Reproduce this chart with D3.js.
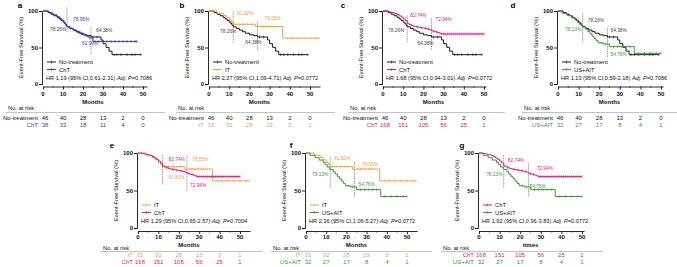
<!DOCTYPE html>
<html>
<head>
<meta charset="utf-8">
<script src="https://cdn.jsdelivr.net/npm/d3@7"></script>
<style>
  body { margin: 0; background: #fff; }
  svg { display: block; font-family: "Liberation Sans", Arial, sans-serif; }
</style>
</head>
<body>
<div id="chart"></div>
<script>
// step curves: event times (months) and survival (%) after each event
const noTreatTimes = [0, 2.5, 4, 5.5, 7, 8, 9, 10, 10.8, 11.4, 12, 13.5, 15, 16.5, 18, 20, 22, 24, 29, 30, 31.5, 33, 34.5];
const noTreatSurv  = [100, 97.8, 95.6, 93.5, 91.3, 89.1, 87, 84.8, 82.6, 80.4, 78.3, 76.1, 73.9, 71.7, 69.6, 67.4, 66.3, 64.4, 60.3, 55.2, 50.2, 45, 40.2];
const noTreatEnd = 49;
const noTreatCensor = [25, 27, 35.5, 37, 39, 42, 44.5, 46, 49];

const chtATimes = [0, 3, 5, 7, 8.5, 9.5, 10.5, 11.2, 11.8, 13, 15, 17, 19, 21, 23, 25];
const chtASurv  = [100, 97.4, 94.7, 92.1, 89.5, 86.8, 84.2, 81.6, 78.9, 76.3, 73.7, 71.1, 68.4, 65.8, 63, 58.3];
const chtAEnd = 47;
const chtACensor = [14, 16, 18, 20, 22, 26, 28, 30, 32, 34, 36, 38, 40, 42, 44, 46, 47];

const itTimes = [0, 4, 7, 8.5, 10, 11, 11.8, 23, 36.5];
const itSurv  = [100, 97, 93.9, 90.9, 87.9, 84.8, 81.8, 78.6, 62.8];
const itEnd = 55;
const itCensor = [13, 15, 17, 19, 21, 24, 26, 27, 28, 29.5, 31, 32, 33.5, 39, 41, 44, 47, 50, 53];

const chtTimes = [0, 2, 3, 4, 5, 6, 7, 8, 9, 10, 11, 12, 13, 14, 15, 16, 17, 18, 19, 20, 21, 22, 23, 24, 25, 26, 27, 28, 29];
const chtSurv  = [100, 99.4, 98.8, 98.2, 97.6, 96.4, 95.2, 93.4, 91.6, 89.2, 86.8, 82.7, 81.5, 80.3, 79.2, 78.6, 78, 77.4, 77, 76.6, 76, 75.3, 74.5, 72.9, 72.2, 71.4, 70.5, 69.3, 68.5];
const chtEnd = 50;
const chtCensor = [14, 17, 19, 21, 22.5, 25, 26.5, 29, 30, 31, 32, 33, 34, 35, 36, 37, 38, 39, 40, 41, 42, 43, 44, 45, 46, 47, 48, 49, 50];

const usaitTimes = [0, 2, 4.5, 6.5, 8.5, 9.5, 10.5, 11.8, 13.5, 14.5, 15.5, 16.5, 17.5, 18.5, 19.5, 22, 25, 37];
const usaitSurv  = [100, 96.9, 93.8, 90.6, 87.5, 84.4, 81.3, 78.1, 75, 71.9, 68.8, 65.6, 62.5, 59.4, 56.3, 54.8, 51.2, 42];
const usaitEnd = 50;
const usaitCensor = [21, 23, 27, 29, 31, 33, 35, 39, 42, 45, 48, 50];

// numbers at risk at 0, 10, 20, 30, 40, 50 months
const riskTicks = [0, 10, 20, 30, 40, 50];
const noTreatRisk = [46, 40, 28, 13, 2, 0];
const chtARisk = [38, 33, 18, 11, 4, 0];
const itRisk = [33, 32, 28, 13, 3, 1];
const chtRisk = [168, 151, 105, 56, 25, 1];
const usaitRisk = [32, 27, 17, 8, 4, 1];

const yTicks = [0, 50, 100];
const xTicks = [0, 10, 20, 30, 40, 50];

const hrTexts = [
  ['HR 1.19 (95% CI,0.61-2.31)', 'P=0.7086'],
  ['HR 2.27 (95% CI,1.09-4.71)', 'P=0.0772'],
  ['HR 1.68 (95% CI,0.94-3.01)', 'P=0.0772'],
  ['HR 1.13 (95% CI,0.59-2.18)', 'P=0.7086'],
  ['HR 1.29 (95% CI,0.65-2.57)', 'P=0.7004'],
  ['HR 2.36 (95% CI,1.06-5.27)', 'P=0.0772'],
  ['HR 1.92 (95% CI,0.96-3.83)', 'P=0.0772']
];

const series = {
  noTreat: { name: 'No-treatment', times: noTreatTimes, surv: noTreatSurv, end: noTreatEnd, censor: noTreatCensor, risk: noTreatRisk, color: '#1a1a1a', label: '#444' },
  chtA:    { name: 'ChT', times: chtATimes, surv: chtASurv, end: chtAEnd, censor: chtACensor, risk: chtARisk, color: '#3b3bc4', label: '#3b3bc4' },
  it:      { name: 'IT', times: itTimes, surv: itSurv, end: itEnd, censor: itCensor, risk: itRisk, color: '#f0a23c', label: '#f0a23c' },
  cht:     { name: 'ChT', times: chtTimes, surv: chtSurv, end: chtEnd, censor: chtCensor, risk: chtRisk, color: '#e4177d', label: '#e4177d' },
  usait:   { name: 'US+AIT', times: usaitTimes, surv: usaitSurv, end: usaitEnd, censor: usaitCensor, risk: usaitRisk, color: '#3e963e', label: '#3e963e' }
};

// layout of the two rows
const rows = [
  { yTop: 11, yBot: 84, axisY: 86.5, tickY: 96, monthsY: 104, riskTitleY: 110, ruleY: 112.5, riskY: [120, 126.5], letterY: 8 },
  { yTop: 153, yBot: 228, axisY: 231, tickY: 238.5, monthsY: 246.5, riskTitleY: 250, ruleY: 251.5, riskY: [257, 263.5], letterY: 148 }
];

// notes: [series, month, pct, text]; vlines: [month, pctTop, pctBottom]
const panels = [
  { letter: 'a', row: 0, x0: 43, w: 100, xmax: 50, axisMax: 52, letterX: 20, left: 8, right: 165, s: ['noTreat', 'chtA'], xlab: 'Months',
    notes: [['chtA', 15, 89, '78.95%'], ['noTreat', 3.5, 75, '78.26%'], ['noTreat', 26.5, 73, '64.38%'], ['chtA', 19.5, 56, '62.99%']],
    vlines: [[12, 105, 70], [24, 78, 40]] },
  { letter: 'b', row: 0, x0: 209, w: 101, xmax: 55, axisMax: 55, letterX: 182, left: 178, right: 335, s: ['noTreat', 'it'], xlab: 'Months',
    notes: [['it', 14, 97, '81.82%'], ['it', 27.5, 90, '78.55%'], ['noTreat', 5.5, 72, '78.26%'], ['noTreat', 18, 57, '64.38%']],
    vlines: [[12, 100, 57], [24, 85, 46]] },
  { letter: 'c', row: 0, x0: 383, w: 101, xmax: 50, axisMax: 51, letterX: 343, left: 350, right: 505, s: ['noTreat', 'cht'], xlab: 'Months',
    notes: [['cht', 13.5, 94.5, '82.74%'], ['cht', 26, 89, '72.94%'], ['noTreat', 2.5, 74, '78.26%'], ['noTreat', 17, 56, '64.38%']],
    vlines: [[12, 94, 56], [24, 90, 46]] },
  { letter: 'd', row: 0, x0: 558, w: 103, xmax: 50, axisMax: 51, letterX: 513, left: 524, right: 677, s: ['noTreat', 'usait'], xlab: 'Months',
    notes: [['noTreat', 14.5, 87, '78.26%'], ['noTreat', 25.5, 74, '64.38%'], ['usait', 3.5, 75, '78.13%'], ['usait', 25.5, 41, '54.76%']],
    vlines: [[12, 97, 56], [24, 77, 37]] },
  { letter: 'e', row: 1, x0: 138, w: 102, xmax: 55, axisMax: 55, letterX: 112, left: 103, right: 262, s: ['it', 'cht'], xlab: 'Months',
    notes: [['cht', 15, 92, '82.74%'], ['it', 26.5, 92, '78.55%'], ['it', 15, 68, '81.82%'], ['cht', 25.5, 57, '72.94%']],
    vlines: [[12, 97, 57], [24, 97, 48]] },
  { letter: 'f', row: 1, x0: 306, w: 101, xmax: 55, axisMax: 55, letterX: 291, left: 273, right: 432, s: ['it', 'usait'], xlab: 'Months',
    notes: [['it', 14, 93, '81.82%'], ['it', 27.7, 85, '78.55%'], ['usait', 3, 72, '78.13%'], ['usait', 26, 58, '54.76%']],
    vlines: [[12, 95, 53], [24, 88, 41]] },
  { letter: 'g', row: 1, x0: 479, w: 103, xmax: 50, axisMax: 51, letterX: 462, left: 443, right: 602, s: ['cht', 'usait'], xlab: 'times',
    notes: [['cht', 14, 90, '82.74%'], ['cht', 28, 79, '72.94%'], ['usait', 3.5, 72, '78.13%'], ['usait', 24.5, 55, '54.76%']],
    vlines: [[12, 97, 53], [24, 87, 41]] }
];

const svg = d3.select('#chart').append('svg').attr('width', 677).attr('height', 267);
svg.append('rect').attr('width', 677).attr('height', 267).attr('fill', '#fff');

panels.forEach((p, pi) => {
  const r = rows[p.row];
  const x = d3.scaleLinear().domain([0, 50]).range([p.x0, p.x0 + p.w]);
  const y = d3.scaleLinear().domain([0, 100]).range([r.yBot, r.yTop]);
  const g = svg.append('g');

  // panel letter
  g.append('text').attr('x', p.letterX).attr('y', r.letterY)
    .attr('font-size', '8px').attr('font-weight', 700).attr('text-anchor', 'middle').text(p.letter);

  // y axis
  const ya = g.append('g').attr('transform', `translate(${p.x0 - 1},0)`)
    .call(d3.axisLeft(y).tickValues(yTicks).tickSize(3).tickFormat(d3.format('d')));
  ya.select('.domain').attr('stroke', '#111').attr('stroke-width', 0.9);
  ya.selectAll('line').attr('stroke', '#111').attr('stroke-width', 0.9);
  ya.selectAll('text').attr('font-size', '6px').attr('font-weight', 700).attr('fill', '#111')
    .attr('font-family', 'Liberation Sans, Arial, sans-serif').attr('x', -4);

  g.append('text')
    .attr('transform', `translate(${p.x0 - 20},${(r.yTop + r.yBot) / 2}) rotate(-90)`)
    .attr('text-anchor', 'middle').attr('font-size', '5.8px').attr('fill', '#111')
    .text('Event-Free Survival (%)');

  // x axis (detached below)
  const xAxisScale = d3.scaleLinear().domain([0, p.axisMax]).range([x(0), x(p.axisMax)]);
  const xa = g.append('g').attr('transform', `translate(0,${r.axisY})`)
    .call(d3.axisBottom(xAxisScale).tickValues(xTicks).tickSize(3).tickSizeOuter(0).tickFormat(d3.format('d')));
  xa.select('.domain').attr('stroke', '#111').attr('stroke-width', 0.9);
  xa.selectAll('line').attr('stroke', '#111').attr('stroke-width', 0.9);
  xa.selectAll('text').remove();
  xTicks.filter(t => t < 50).forEach(t => {
    g.append('line').attr('x1', x(t + 5)).attr('x2', x(t + 5)).attr('y1', r.axisY).attr('y2', r.axisY + 1.6)
      .attr('stroke', '#111').attr('stroke-width', 0.7);
  });
  g.selectAll(null).data(xTicks).join('text')
    .attr('x', d => x(d)).attr('y', r.tickY).attr('text-anchor', 'middle')
    .attr('font-size', '6px').attr('font-weight', 700).attr('fill', '#111').text(d => d);
  g.append('text').attr('x', x(25)).attr('y', r.monthsY).attr('text-anchor', 'middle')
    .attr('font-size', '6px').attr('font-weight', 700).attr('fill', '#111').text(p.xlab);

  // reference lines at 12 and 24 months
  p.vlines.forEach(v => {
    g.append('line').attr('x1', x(v[0])).attr('x2', x(v[0])).attr('y1', y(v[1])).attr('y2', y(v[2]))
      .attr('stroke', '#777').attr('stroke-width', 0.7).attr('stroke-dasharray', '1.5,0.8');
  });

  // survival curves
  const line = d3.line().x(d => x(d[0])).y(d => y(d[1])).curve(d3.curveStepAfter);
  p.s.forEach(key => {
    const s = series[key];
    const pts = s.times.map((t, i) => [t, s.surv[i]]);
    pts.push([s.end, s.surv[s.surv.length - 1]]);
    g.append('path').datum(pts).attr('d', line).attr('fill', 'none')
      .attr('stroke', s.color).attr('stroke-width', 1);
    const survAt = t => { let v = 100; s.times.forEach((tt, i) => { if (tt <= t) v = s.surv[i]; }); return v; };
    s.censor.forEach(c => {
      g.append('line').attr('x1', x(c)).attr('x2', x(c))
        .attr('y1', y(survAt(c)) - 1.4).attr('y2', y(survAt(c)) + 1.4)
        .attr('stroke', s.color).attr('stroke-width', 0.6);
    });
  });

  // percentage notes
  p.notes.forEach(n => {
    g.append('text').attr('x', x(n[1])).attr('y', y(n[2])).attr('dy', '0.35em')
      .attr('font-size', '4.8px').attr('fill', series[n[0]].label).text(n[3]);
  });

  // legend
  const legY = p.row === 0 ? [62, 69.5] : [205, 212.5];
  p.s.forEach((key, i) => {
    const s = series[key];
    g.append('line').attr('x1', p.x0 + 4).attr('x2', p.x0 + 13).attr('y1', legY[i]).attr('y2', legY[i])
      .attr('stroke', s.color).attr('stroke-width', 1);
    g.append('line').attr('x1', p.x0 + 8.5).attr('x2', p.x0 + 8.5).attr('y1', legY[i] - 1.5).attr('y2', legY[i] + 1.5)
      .attr('stroke', s.color).attr('stroke-width', 0.6);
    g.append('text').attr('x', p.x0 + 16).attr('y', legY[i]).attr('dy', '0.35em')
      .attr('font-size', '5.8px').attr('fill', '#111').text(s.name);
  });
  const hr = g.append('text').attr('x', p.x0 + 3).attr('y', legY[1] + 8.5).attr('dy', '0.35em')
    .attr('font-size', '5.6px').attr('fill', '#111');
  hr.append('tspan').text(hrTexts[pi][0] + '  ');
  hr.append('tspan').attr('font-style', 'italic').text('Adj. ');
  hr.append('tspan').attr('font-style', 'italic').text('P');
  hr.append('tspan').text(hrTexts[pi][1].slice(1));

  // number at risk table
  g.append('text').attr('x', p.left).attr('y', r.riskTitleY)
    .attr('font-size', '5.8px').attr('fill', '#111').text('No. at risk');
  g.append('line').attr('x1', p.left - 2).attr('x2', p.right).attr('y1', r.ruleY).attr('y2', r.ruleY)
    .attr('stroke', '#999').attr('stroke-width', 0.6);
  p.s.forEach((key, i) => {
    const s = series[key];
    g.append('text').attr('x', p.x0 - 5).attr('y', r.riskY[i]).attr('text-anchor', 'end')
      .attr('font-size', '6px').attr('fill', s.label === '#444' ? '#111' : s.color).text(s.name);
    g.selectAll(null).data(riskTicks).join('text')
      .attr('x', d => x(d) + (d === 0 ? 2 : 0)).attr('y', r.riskY[i]).attr('text-anchor', 'middle')
      .attr('font-size', '6px').attr('fill', s.label === '#444' ? '#111' : s.color)
      .text((d, j) => s.risk[j]);
  });
});
</script>
</body>
</html>
